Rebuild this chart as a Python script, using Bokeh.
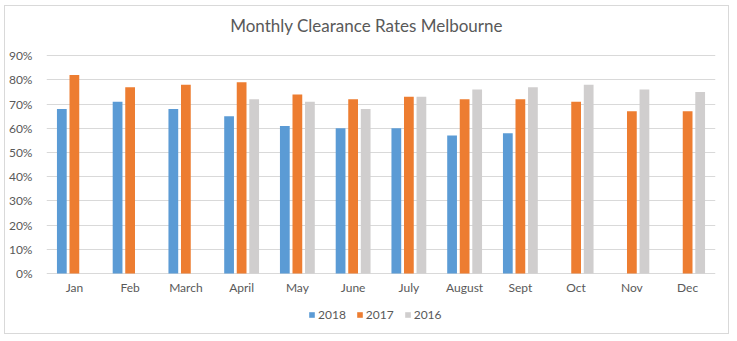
from bokeh.plotting import figure
from bokeh.models import (FactorRange, ColumnDataSource, NumeralTickFormatter, FixedTicker,
                          Legend, LegendItem, Label)
from bokeh.core.properties import value
from bokeh.transform import dodge
from bokeh.embed import file_html
from bokeh.resources import INLINE

months = ["Jan", "Feb", "March", "April", "May", "June", "July", "August", "Sept", "Oct", "Nov", "Dec"]
s2018 = [0.68, 0.71, 0.68, 0.65, 0.61, 0.60, 0.60, 0.57, 0.58, None, None, None]
s2017 = [0.82, 0.77, 0.78, 0.79, 0.74, 0.72, 0.73, 0.72, 0.72, 0.71, 0.67, 0.67]
s2016 = [None, None, None, 0.72, 0.71, 0.68, 0.73, 0.76, 0.77, 0.78, 0.76, 0.75]
series_names = ["2018", "2017", "2016"]
colors = ["#5B9BD5", "#ED7D31", "#D0CECE"]
yticks = [0.0, 0.1, 0.2, 0.3, 0.4, 0.5, 0.6, 0.7, 0.8, 0.9]
title_text = "Monthly Clearance Rates Melbourne"

FONT = "Lato"
TXT = "#595959"

p = figure(x_range=FactorRange(*months), y_range=(-0.2562, 1.1033), width=725, height=329,
           output_backend="svg", toolbar_location=None,
           min_border_left=40, min_border_right=15, min_border_top=0, min_border_bottom=0,
           margin=(5, 5, 5, 4), styles={"border": "1px solid #D9D9D9"})

p.outline_line_color = None
p.background_fill_color = "white"
p.border_fill_color = "white"

renderers = []
offsets = [-0.225, 0.0, 0.225]
for name, vals, col, off in zip(series_names, [s2018, s2017, s2016], colors, offsets):
    xs = [m for m, v in zip(months, vals) if v is not None]
    ys = [v for v in vals if v is not None]
    src = ColumnDataSource(dict(x=xs, top=ys))
    r = p.vbar(x=dodge("x", off, range=p.x_range), top="top", width=0.175, source=src,
               fill_color=col, line_color=None)
    renderers.append(r)

p.yaxis.ticker = FixedTicker(ticks=yticks)
p.yaxis.formatter = NumeralTickFormatter(format="0%")
p.yaxis.axis_line_color = None
p.yaxis.major_tick_line_color = None
p.yaxis.minor_tick_line_color = None
p.yaxis.major_label_text_font = FONT
p.yaxis.major_label_text_font_size = "12px"
p.yaxis.major_label_text_color = TXT
p.yaxis.major_label_standoff = 8

p.xaxis.visible = False
p.xgrid.grid_line_color = None
p.ygrid.grid_line_color = "#D9D9D9"
p.ygrid.ticker = FixedTicker(ticks=yticks)

# category labels under the baseline
lab_src = ColumnDataSource(dict(x=months, y=[0.0] * len(months), t=months))
p.text(x="x", y="y", text="t", source=lab_src, y_offset=14, text_align="center",
       text_baseline="middle", text_font=value(FONT), text_font_size="12px", text_color=TXT)

p.add_layout(Label(x=5.74, y=1.025, text=title_text, text_align="center", text_baseline="middle",
                   text_font=FONT, text_font_size="17px", text_color=TXT))

legend = Legend(items=[LegendItem(label=n, renderers=[r]) for n, r in zip(series_names, renderers)],
                orientation="horizontal", location=(262, 13),
                glyph_width=7, glyph_height=7, spacing=10, label_standoff=3,
                label_text_font=FONT, label_text_font_size="12px", label_text_color=TXT,
                border_line_color=None, background_fill_alpha=0, padding=0, margin=0)
p.add_layout(legend, "center")

open("out.html", "w").write(file_html(p, INLINE))
